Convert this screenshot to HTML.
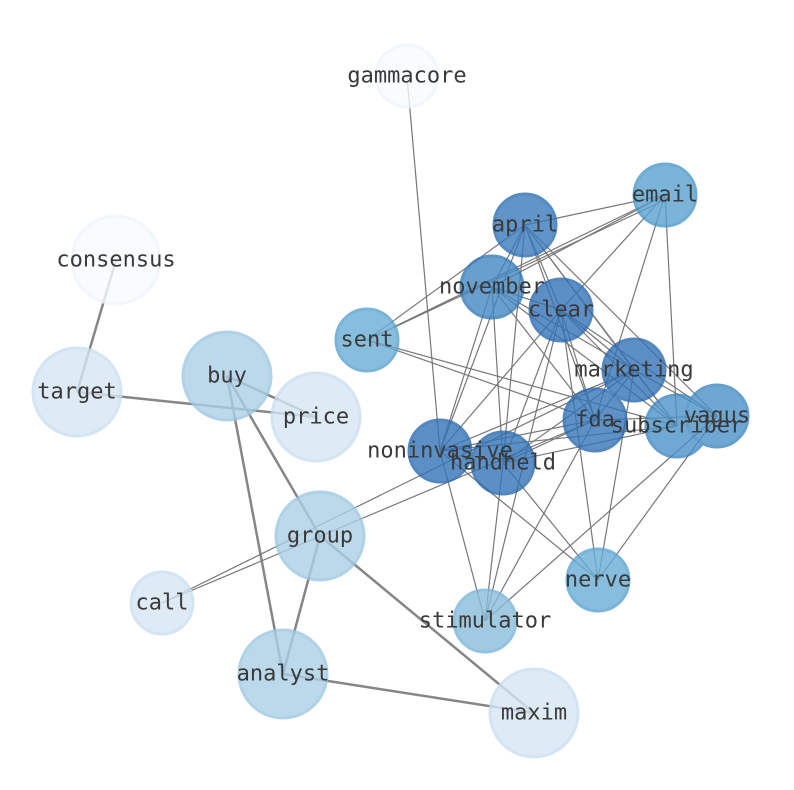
<!DOCTYPE html>
<html><head><meta charset="utf-8"><style>html,body{margin:0;padding:0;background:#fff}svg{display:block}</style></head><body>
<svg width="794" height="790" viewBox="0 0 794 790" xmlns="http://www.w3.org/2000/svg">
<g stroke="#808080" stroke-width="2.5" opacity="0.95">
<line x1="116" y1="260" x2="77" y2="392"/>
<line x1="77" y1="392" x2="316" y2="417"/>
<line x1="227" y1="376" x2="316" y2="417"/>
<line x1="227" y1="376" x2="320" y2="536"/>
<line x1="227" y1="376" x2="283" y2="674"/>
<line x1="320" y1="536" x2="283" y2="674"/>
<line x1="320" y1="536" x2="534" y2="713"/>
<line x1="283" y1="674" x2="534" y2="713"/>
</g>
<g stroke="#777" stroke-width="1.2">
<line x1="407" y1="76" x2="440" y2="451"/>
<line x1="162" y1="603" x2="634" y2="370"/>
<line x1="162" y1="603" x2="595" y2="420"/>
<line x1="367" y1="340" x2="665" y2="195"/>
<line x1="367" y1="340" x2="525" y2="225"/>
<line x1="367" y1="340" x2="665" y2="200"/>
<line x1="367" y1="340" x2="595" y2="420"/>
<line x1="367" y1="340" x2="677" y2="426"/>
<line x1="525" y1="225" x2="665" y2="195"/>
<line x1="525" y1="225" x2="492" y2="287"/>
<line x1="525" y1="225" x2="561" y2="310"/>
<line x1="525" y1="225" x2="634" y2="370"/>
<line x1="525" y1="225" x2="595" y2="420"/>
<line x1="525" y1="225" x2="677" y2="426"/>
<line x1="525" y1="225" x2="717" y2="416"/>
<line x1="525" y1="225" x2="503" y2="463"/>
<line x1="525" y1="225" x2="440" y2="451"/>
<line x1="665" y1="195" x2="492" y2="287"/>
<line x1="665" y1="195" x2="561" y2="310"/>
<line x1="665" y1="195" x2="595" y2="420"/>
<line x1="665" y1="195" x2="677" y2="426"/>
<line x1="492" y1="287" x2="561" y2="310"/>
<line x1="492" y1="287" x2="634" y2="370"/>
<line x1="492" y1="287" x2="595" y2="420"/>
<line x1="492" y1="287" x2="677" y2="426"/>
<line x1="492" y1="287" x2="440" y2="451"/>
<line x1="492" y1="287" x2="503" y2="463"/>
<line x1="561" y1="310" x2="634" y2="370"/>
<line x1="561" y1="310" x2="595" y2="420"/>
<line x1="561" y1="310" x2="677" y2="426"/>
<line x1="561" y1="310" x2="717" y2="416"/>
<line x1="561" y1="310" x2="440" y2="451"/>
<line x1="561" y1="310" x2="503" y2="463"/>
<line x1="561" y1="310" x2="485" y2="621"/>
<line x1="561" y1="310" x2="598" y2="580"/>
<line x1="634" y1="370" x2="595" y2="420"/>
<line x1="634" y1="370" x2="677" y2="426"/>
<line x1="634" y1="370" x2="717" y2="416"/>
<line x1="634" y1="370" x2="440" y2="451"/>
<line x1="634" y1="370" x2="503" y2="463"/>
<line x1="634" y1="370" x2="598" y2="580"/>
<line x1="595" y1="420" x2="440" y2="451"/>
<line x1="595" y1="420" x2="503" y2="463"/>
<line x1="595" y1="420" x2="717" y2="416"/>
<line x1="595" y1="420" x2="485" y2="621"/>
<line x1="677" y1="426" x2="503" y2="463"/>
<line x1="677" y1="426" x2="440" y2="451"/>
<line x1="717" y1="416" x2="485" y2="621"/>
<line x1="717" y1="416" x2="598" y2="580"/>
<line x1="440" y1="451" x2="485" y2="621"/>
<line x1="440" y1="451" x2="598" y2="580"/>
<line x1="503" y1="463" x2="485" y2="621"/>
<line x1="503" y1="463" x2="598" y2="580"/>
</g>
<g stroke-width="3" opacity="0.8">
<circle cx="407" cy="76" r="31" fill="#f7fbff" stroke="#f0f6fd"/>
<circle cx="116" cy="260" r="44" fill="#f7fbff" stroke="#f0f6fd"/>
<circle cx="77" cy="392" r="44" fill="#d6e5f4" stroke="#c9def0"/>
<circle cx="227" cy="376" r="44" fill="#abd0e6" stroke="#9cc7e0"/>
<circle cx="316" cy="417" r="44" fill="#d6e5f4" stroke="#c9def0"/>
<circle cx="320" cy="536" r="44" fill="#abd0e6" stroke="#9cc7e0"/>
<circle cx="162" cy="603" r="31" fill="#d6e5f4" stroke="#c9def0"/>
<circle cx="283" cy="674" r="44" fill="#abd0e6" stroke="#9cc7e0"/>
<circle cx="534" cy="713" r="44" fill="#d6e5f4" stroke="#c9def0"/>
<circle cx="485" cy="621" r="31" fill="#89bedc" stroke="#7ab5da"/>
<circle cx="598" cy="580" r="31" fill="#6aaed6" stroke="#5aa2d0"/>
<circle cx="367" cy="340" r="31" fill="#6aaed6" stroke="#5aa2d0"/>
<circle cx="665" cy="195" r="31" fill="#5ba2d0" stroke="#4a98c9"/>
<circle cx="525" cy="225" r="31" fill="#3a7bbd" stroke="#2c6fb5"/>
<circle cx="492" cy="287" r="31" fill="#4288c2" stroke="#3479b9"/>
<circle cx="561" cy="310" r="31" fill="#3474b8" stroke="#2a6ab0"/>
<circle cx="634" cy="370" r="31" fill="#3474b8" stroke="#2a6ab0"/>
<circle cx="595" cy="420" r="31" fill="#3676b9" stroke="#2a6ab0"/>
<circle cx="677" cy="426" r="31" fill="#4c93c8" stroke="#3e88c2"/>
<circle cx="717" cy="416" r="31" fill="#4a92c7" stroke="#3e88c2"/>
<circle cx="440" cy="451" r="31" fill="#3474b8" stroke="#2a6ab0"/>
<circle cx="503" cy="463" r="31" fill="#3474b8" stroke="#2a6ab0"/>
</g>
<g font-family="'DejaVu Sans Mono','Liberation Mono',monospace" font-size="22" fill="#3a3a3a" text-anchor="middle" dominant-baseline="central">
<text x="407" y="76">gammacore</text>
<text x="116" y="260">consensus</text>
<text x="77" y="392">target</text>
<text x="227" y="376">buy</text>
<text x="316" y="417">price</text>
<text x="320" y="536">group</text>
<text x="162" y="603">call</text>
<text x="283" y="674">analyst</text>
<text x="534" y="713">maxim</text>
<text x="485" y="621">stimulator</text>
<text x="598" y="580">nerve</text>
<text x="367" y="340">sent</text>
<text x="665" y="195">email</text>
<text x="525" y="225">april</text>
<text x="492" y="287">november</text>
<text x="561" y="310">clear</text>
<text x="634" y="370">marketing</text>
<text x="595" y="420">fda</text>
<text x="677" y="426">subscriber</text>
<text x="717" y="416">vagus</text>
<text x="440" y="451">noninvasive</text>
<text x="503" y="463">handheld</text>
</g>
</svg>
</body></html>
